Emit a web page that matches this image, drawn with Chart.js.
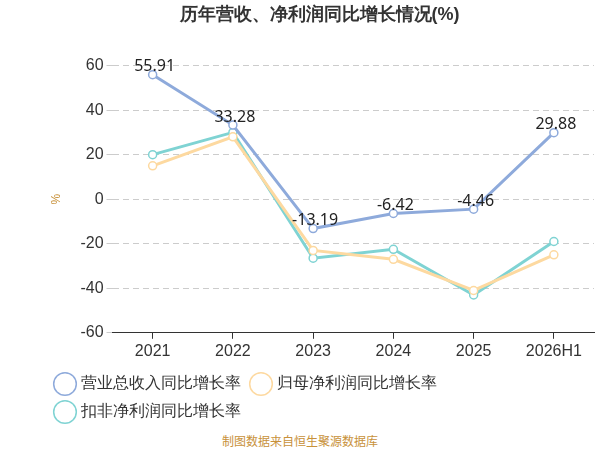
<!DOCTYPE html>
<html><head><meta charset="utf-8">
<script src="https://cdn.jsdelivr.net/npm/chart.js@4"></script>
<style>body{margin:0;background:#fff;font-family:"Noto Sans CJK SC","Noto Sans",sans-serif}
#wrap{position:relative;width:600px;height:450px}
#foot{position:absolute;left:0;width:600px;top:432px;text-align:center;font-size:12px;color:#c8913a}</style>
</head><body>
<div id="wrap"><canvas id="c" width="600" height="430"></canvas><div id="foot">制图数据来自恒生聚源数据库</div></div>
<script>
const years = ['2021', '2022', '2023', '2024', '2025', '2026H1'];
const revenue = [55.91, 33.28, -13.19, -6.42, -4.46, 29.88];
const netProfit = [15, 28, -23, -27, -41, -25];
const deducted = [20, 30, -26.5, -22.5, -43, -19];

const labelPlugin = {
    id: 'labels',
    afterDatasetsDraw(chart) {
        const ctx = chart.ctx;
        const meta = chart.getDatasetMeta(0);
        ctx.save();
        ctx.font = '16px "Noto Sans", sans-serif';
        ctx.fillStyle = '#222';
        ctx.textAlign = 'center';
        ctx.textBaseline = 'middle';
        meta.data.forEach((p, i) => ctx.fillText(revenue[i].toFixed(2), p.x + 2, p.y - 8));
        ctx.restore();
    }
};

new Chart(document.getElementById('c').getContext('2d'), {
    type: 'line',
    data: {
        labels: years,
        datasets: [
            { label: '营业总收入同比增长率', data: revenue, borderColor: '#8eaadb', backgroundColor: '#fff' },
            { label: '归母净利润同比增长率', data: netProfit, borderColor: '#fdd9a0', backgroundColor: '#fff' },
            { label: '扣非净利润同比增长率', data: deducted, borderColor: '#7fd3d3', backgroundColor: '#fff' }
        ]
    },
    options: {
        responsive: false,
        animation: false,
        layout: { padding: { left: 45, right: 6 } },
        elements: { line: { borderWidth: 3, tension: 0 }, point: { radius: 4, borderWidth: 1.5 } },
        plugins: {
            title: { display: true, text: '历年营收、净利润同比增长情况(%)', font: { size: 18, weight: 'bold' }, color: '#333', padding: { top: 4, bottom: 40 } },
            legend: {
                position: 'bottom', align: 'start',
                labels: { usePointStyle: true, pointStyle: 'circle', boxWidth: 18, boxHeight: 18, font: { size: 16 }, color: '#333', padding: 12 }
            }
        },
        scales: {
            x: {
                offset: true,
                grid: { display: true, drawOnChartArea: false, drawTicks: true, tickLength: 6, color: '#333' },
                border: { color: '#333' },
                ticks: { font: { size: 16 }, color: '#333' }
            },
            y: {
                min: -60, max: 60,
                ticks: { stepSize: 20, font: { size: 16 }, color: '#333' },
                grid: { color: '#ccc', tickLength: 6 },
                border: { dash: [6, 4], display: false },
                title: { display: true, text: '%', color: '#c8913a', font: { size: 12 }, padding: { bottom: 14 } }
            }
        }
    },
    plugins: [labelPlugin]
});
</script>
</body></html>
